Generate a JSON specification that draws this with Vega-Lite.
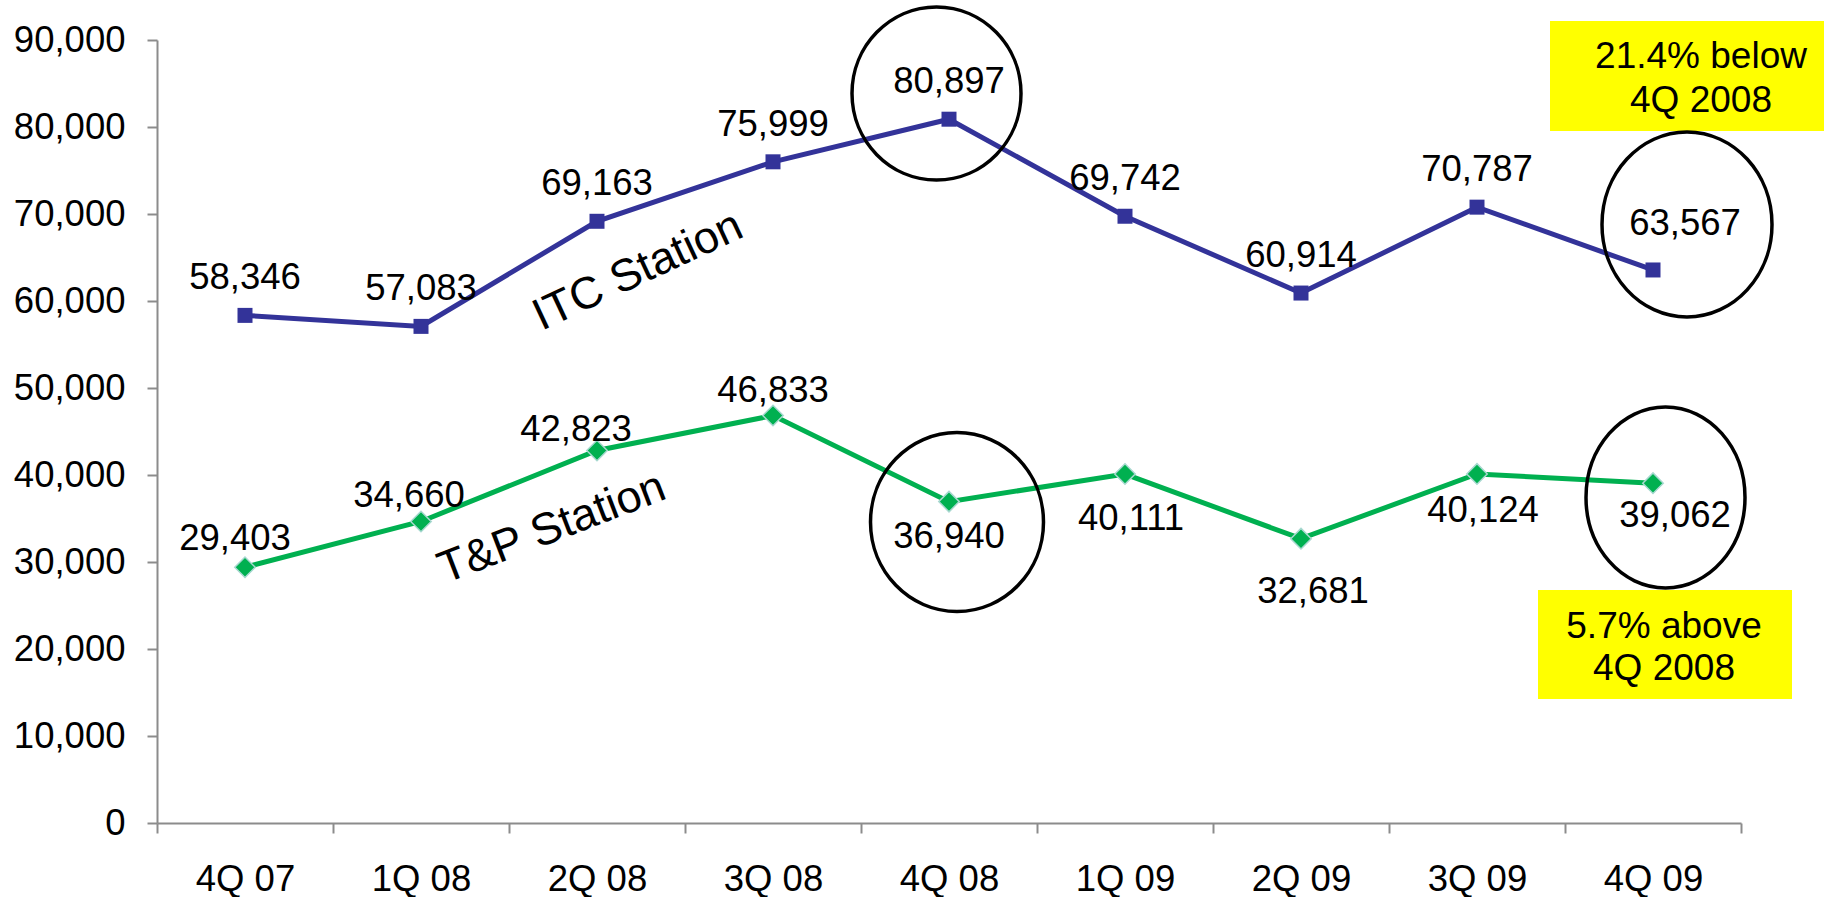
{
  "$schema": "https://vega.github.io/schema/vega-lite/v6.json",
  "width": 1584,
  "height": 783,
  "autosize": {"type": "none"},
  "padding": {"left": 157, "top": 40, "right": 85, "bottom": 74},
  "background": "white",
  "config": {"view": {"stroke": null}, "font": "Liberation Sans", "text": {"font": "Liberation Sans", "color": "black"}},
  "data": {
    "values": [
      {"quarter": "4Q 07", "series": "ITC Station", "value": 58346},
      {"quarter": "1Q 08", "series": "ITC Station", "value": 57083},
      {"quarter": "2Q 08", "series": "ITC Station", "value": 69163},
      {"quarter": "3Q 08", "series": "ITC Station", "value": 75999},
      {"quarter": "4Q 08", "series": "ITC Station", "value": 80897},
      {"quarter": "1Q 09", "series": "ITC Station", "value": 69742},
      {"quarter": "2Q 09", "series": "ITC Station", "value": 60914},
      {"quarter": "3Q 09", "series": "ITC Station", "value": 70787},
      {"quarter": "4Q 09", "series": "ITC Station", "value": 63567},
      {"quarter": "4Q 07", "series": "T&P Station", "value": 29403},
      {"quarter": "1Q 08", "series": "T&P Station", "value": 34660},
      {"quarter": "2Q 08", "series": "T&P Station", "value": 42823},
      {"quarter": "3Q 08", "series": "T&P Station", "value": 46833},
      {"quarter": "4Q 08", "series": "T&P Station", "value": 36940},
      {"quarter": "1Q 09", "series": "T&P Station", "value": 40111},
      {"quarter": "2Q 09", "series": "T&P Station", "value": 32681},
      {"quarter": "3Q 09", "series": "T&P Station", "value": 40124},
      {"quarter": "4Q 09", "series": "T&P Station", "value": 39062}
    ]
  },
  "encoding": {
    "x": {
      "field": "quarter", "type": "ordinal",
      "sort": ["4Q 07", "1Q 08", "2Q 08", "3Q 08", "4Q 08", "1Q 09", "2Q 09", "3Q 09", "4Q 09"],
      "scale": {"type": "band", "paddingInner": 0, "paddingOuter": 0},
      "axis": {
        "title": null, "tickBand": "extent", "labelAngle": 0, "labelFontSize": 36.5, "labelColor": "black",
        "labelFont": "Liberation Sans", "labelPadding": 28, "tickSize": 10, "tickColor": "#8c8c8c",
        "tickWidth": 2, "domainColor": "#8c8c8c", "domainWidth": 2, "grid": false
      }
    },
    "y": {
      "field": "value", "type": "quantitative",
      "scale": {"domain": [0, 90000], "nice": false},
      "axis": {
        "title": null, "values": [0, 10000, 20000, 30000, 40000, 50000, 60000, 70000, 80000, 90000],
        "format": ",d", "labelFontSize": 36.5, "labelColor": "black", "labelFont": "Liberation Sans",
        "labelPadding": 22, "tickSize": 10, "tickColor": "#8c8c8c", "tickWidth": 2,
        "domainColor": "#8c8c8c", "domainWidth": 2, "grid": false
      }
    }
  },
  "layer": [
    {
      "transform": [{"filter": "datum.series === 'ITC Station' && datum.quarter === '4Q 09'"}],
      "mark": {"type": "point", "shape": "M -1.03 -2.49 L 1.71 -2.49 L 1.71 -1.39 L -1.03 -1.39 Z", "size": 40000, "filled": true, "color": "#FFFF00", "opacity": 1, "strokeWidth": 0}
    },
    {
      "transform": [{"filter": "datum.series === 'T&P Station' && datum.quarter === '4Q 09'"}],
      "mark": {"type": "point", "shape": "M -1.15 1.068 L 1.39 1.068 L 1.39 2.158 L -1.15 2.158 Z", "size": 40000, "filled": true, "color": "#FFFF00", "opacity": 1, "strokeWidth": 0}
    },
    {
      "mark": {"type": "line", "strokeWidth": 5},
      "encoding": {
        "color": {"field": "series", "type": "nominal", "scale": {"domain": ["ITC Station", "T&P Station"], "range": ["#333399", "#00B050"]}, "legend": null}
      }
    },
    {
      "transform": [{"filter": "datum.series === 'ITC Station'"}],
      "mark": {"type": "point", "shape": "square", "size": 225, "filled": true, "color": "#333399", "opacity": 1}
    },
    {
      "transform": [{"filter": "datum.series === 'T&P Station'"}],
      "mark": {"type": "point", "shape": "diamond", "size": 420, "filled": true, "fill": "#00B050", "stroke": "#a8d8d0", "strokeWidth": 1.5, "opacity": 1}
    },
    {
      "transform": [{"filter": "datum.series === 'ITC Station' && datum.quarter === '4Q 08'"}],
      "mark": {"type": "point", "shape": "M 0.72 -0.257 C 0.72 0.2207 0.3417 0.608 -0.125 0.608 C -0.5917 0.608 -0.97 0.2207 -0.97 -0.257 C -0.97 -0.7347 -0.5917 -1.122 -0.125 -1.122 C 0.3417 -1.122 0.72 -0.7347 0.72 -0.257 Z", "size": 40000, "filled": false, "color": "black", "strokeWidth": 3.5, "opacity": 1}
    },
    {
      "transform": [{"filter": "datum.series === 'T&P Station' && datum.quarter === '4Q 08'"}],
      "mark": {"type": "point", "shape": "M 0.945 0.204 C 0.945 0.6983 0.5577 1.099 0.08 1.099 C -0.3977 1.099 -0.785 0.6983 -0.785 0.204 C -0.785 -0.2903 -0.3977 -0.691 0.08 -0.691 C 0.5577 -0.691 0.945 -0.2903 0.945 0.204 Z", "size": 40000, "filled": false, "color": "black", "strokeWidth": 3.5, "opacity": 1}
    },
    {
      "transform": [{"filter": "datum.series === 'ITC Station' && datum.quarter === '4Q 09'"}],
      "mark": {"type": "point", "shape": "M 1.19 -0.455 C 1.19 0.0559 0.8095 0.47 0.34 0.47 C -0.1295 0.47 -0.51 0.0559 -0.51 -0.455 C -0.51 -0.9659 -0.1295 -1.38 0.34 -1.38 C 0.8095 -1.38 1.19 -0.9659 1.19 -0.455 Z", "size": 40000, "filled": false, "color": "black", "strokeWidth": 3.5, "opacity": 1}
    },
    {
      "transform": [{"filter": "datum.series === 'T&P Station' && datum.quarter === '4Q 09'"}],
      "mark": {"type": "point", "shape": "M 0.92 0.143 C 0.92 0.6428 0.5641 1.048 0.125 1.048 C -0.3141 1.048 -0.67 0.6428 -0.67 0.143 C -0.67 -0.3568 -0.3141 -0.762 0.125 -0.762 C 0.5641 -0.762 0.92 -0.3568 0.92 0.143 Z", "size": 40000, "filled": false, "color": "black", "strokeWidth": 3.5, "opacity": 1}
    },
    {
      "transform": [{"filter": "datum.series === 'ITC Station' && datum.quarter !== '4Q 09'"}],
      "mark": {"type": "text", "fontSize": 36.5, "baseline": "middle", "align": "center", "dy": -37},
      "encoding": {"text": {"field": "value", "type": "quantitative", "format": ","}}
    },
    {
      "transform": [{"filter": "datum.series === 'ITC Station' && datum.quarter === '4Q 09'"}],
      "mark": {"type": "text", "fontSize": 36.5, "baseline": "middle", "align": "center", "dx": 32, "dy": -46},
      "encoding": {"text": {"field": "value", "type": "quantitative", "format": ","}}
    },
    {
      "transform": [{"filter": "datum.series === 'T&P Station' && datum.quarter === '4Q 07'"}],
      "mark": {"type": "text", "fontSize": 36.5, "baseline": "middle", "align": "center", "dx": -10, "dy": -28},
      "encoding": {"text": {"field": "value", "type": "quantitative", "format": ","}}
    },
    {
      "transform": [{"filter": "datum.series === 'T&P Station' && datum.quarter === '1Q 08'"}],
      "mark": {"type": "text", "fontSize": 36.5, "baseline": "middle", "align": "center", "dx": -12, "dy": -25},
      "encoding": {"text": {"field": "value", "type": "quantitative", "format": ","}}
    },
    {
      "transform": [{"filter": "datum.series === 'T&P Station' && datum.quarter === '2Q 08'"}],
      "mark": {"type": "text", "fontSize": 36.5, "baseline": "middle", "align": "center", "dx": -21, "dy": -20},
      "encoding": {"text": {"field": "value", "type": "quantitative", "format": ","}}
    },
    {
      "transform": [{"filter": "datum.series === 'T&P Station' && datum.quarter === '3Q 08'"}],
      "mark": {"type": "text", "fontSize": 36.5, "baseline": "middle", "align": "center", "dx": 0, "dy": -25},
      "encoding": {"text": {"field": "value", "type": "quantitative", "format": ","}}
    },
    {
      "transform": [{"filter": "datum.series === 'T&P Station' && datum.quarter === '4Q 08'"}],
      "mark": {"type": "text", "fontSize": 36.5, "baseline": "middle", "align": "center", "dx": 0, "dy": 35},
      "encoding": {"text": {"field": "value", "type": "quantitative", "format": ","}}
    },
    {
      "transform": [{"filter": "datum.series === 'T&P Station' && datum.quarter === '1Q 09'"}],
      "mark": {"type": "text", "fontSize": 36.5, "baseline": "middle", "align": "center", "dx": 6, "dy": 45},
      "encoding": {"text": {"field": "value", "type": "quantitative", "format": ","}}
    },
    {
      "transform": [{"filter": "datum.series === 'T&P Station' && datum.quarter === '2Q 09'"}],
      "mark": {"type": "text", "fontSize": 36.5, "baseline": "middle", "align": "center", "dx": 12, "dy": 53},
      "encoding": {"text": {"field": "value", "type": "quantitative", "format": ","}}
    },
    {
      "transform": [{"filter": "datum.series === 'T&P Station' && datum.quarter === '3Q 09'"}],
      "mark": {"type": "text", "fontSize": 36.5, "baseline": "middle", "align": "center", "dx": 6, "dy": 37},
      "encoding": {"text": {"field": "value", "type": "quantitative", "format": ","}}
    },
    {
      "transform": [{"filter": "datum.series === 'T&P Station' && datum.quarter === '4Q 09'"}],
      "mark": {"type": "text", "fontSize": 36.5, "baseline": "middle", "align": "center", "dx": 22, "dy": 33},
      "encoding": {"text": {"field": "value", "type": "quantitative", "format": ","}}
    },
    {
      "transform": [{"filter": "datum.series === 'ITC Station' && datum.quarter === '2Q 08'"}],
      "mark": {"type": "text", "fontSize": 45, "baseline": "middle", "align": "center", "angle": 335, "dx": 16, "dy": 62},
      "encoding": {"text": {"field": "series", "type": "nominal"}}
    },
    {
      "transform": [{"filter": "datum.series === 'T&P Station' && datum.quarter === '2Q 08'"}],
      "mark": {"type": "text", "fontSize": 45, "baseline": "middle", "align": "center", "angle": 339, "dx": -70, "dy": 56},
      "encoding": {"text": {"field": "series", "type": "nominal"}}
    },
    {
      "transform": [{"filter": "datum.series === 'ITC Station' && datum.quarter === '4Q 09'"}],
      "mark": {"type": "text", "fontSize": 37, "baseline": "middle", "align": "center", "dx": 48, "dy": -213, "text": "21.4% below"}
    },
    {
      "transform": [{"filter": "datum.series === 'ITC Station' && datum.quarter === '4Q 09'"}],
      "mark": {"type": "text", "fontSize": 37, "baseline": "middle", "align": "center", "dx": 48, "dy": -169, "text": "4Q 2008"}
    },
    {
      "transform": [{"filter": "datum.series === 'T&P Station' && datum.quarter === '4Q 09'"}],
      "mark": {"type": "text", "fontSize": 37, "baseline": "middle", "align": "center", "dx": 11, "dy": 144, "text": "5.7% above"}
    },
    {
      "transform": [{"filter": "datum.series === 'T&P Station' && datum.quarter === '4Q 09'"}],
      "mark": {"type": "text", "fontSize": 37, "baseline": "middle", "align": "center", "dx": 11, "dy": 186, "text": "4Q 2008"}
    }
  ]
}
